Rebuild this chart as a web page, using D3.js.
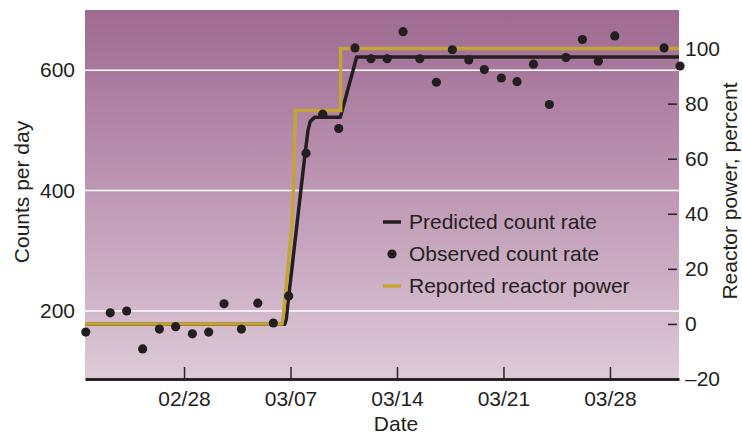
<!DOCTYPE html>
<html>
<head>
<meta charset="utf-8">
<script src="https://cdn.jsdelivr.net/npm/d3@7"></script>
<style>
  body { margin: 0; background: #fff; }
  text { font-family: "Liberation Sans", Arial, sans-serif; fill: #231f20; }
</style>
</head>
<body>
<div id="chart"></div>
<script>
// base date for the day offsets below (02/28)
var baseDate = Date.UTC(2021, 1, 28);

// observed count rate (dots)
var obsDay = [-6.46, -4.85, -3.77, -2.72, -1.62, -0.55, 0.55, 1.62, 2.63, 3.77, 4.85, 5.87, 6.88,
  8.02, 9.12, 10.17, 11.24, 12.29, 13.35, 14.40, 15.50, 16.59, 17.64, 18.72, 19.74, 20.86,
  21.89, 22.97, 24.02, 25.11, 26.19, 27.24, 28.32, 31.56, 32.61];
var obsCount = [165, 197, 200, 137, 170, 174, 162, 165, 212, 170, 213, 180, 225,
  462, 527, 503, 637, 619, 619, 664, 619, 580, 634, 617, 601, 587,
  581, 610, 543, 621, 651, 615, 657, 637, 607];

// predicted count rate (black line)
var predDay = [-6.51, 6.62, 6.72, 6.88, 7.96, 8.15, 8.3, 8.6, 10.28, 11.35, 32.54];
var predCount = [178, 178, 186, 224, 462, 500, 515, 522, 522, 622, 622];

// reported reactor power, percent (gold line)
var powerDay = [-6.51, 6.44, 6.55, 7.08, 7.19, 7.32, 10.3, 10.3, 32.54];
var powerPct = [0, 0, 4, 35, 49, 77.5, 77.5, 100, 100];

// axis ticks
var dateTicks = ["2021-02-28", "2021-03-07", "2021-03-14", "2021-03-21", "2021-03-28"];
var countTicks = [200, 400, 600];
var powerTicks = [-20, 0, 20, 40, 60, 80, 100];

var svgWidth = 742;
var svgHeight = 435;
var margin = { top: 10, right: 63, bottom: 56, left: 85 };
var width = svgWidth - margin.left - margin.right;
var height = svgHeight - margin.top - margin.bottom;
var fontSize = 21;

var dayMs = 864e5;
function toDate(d) { return new Date(baseDate + d * dayMs); }

var svg = d3.select("#chart").append("svg")
  .attr("width", svgWidth)
  .attr("height", svgHeight);

var defs = svg.append("defs");
var grad = defs.append("linearGradient")
  .attr("id", "bg")
  .attr("x1", 0).attr("y1", 0).attr("x2", 0).attr("y2", 1);
grad.append("stop").attr("offset", "0%").attr("stop-color", "#9e6a91");
grad.append("stop").attr("offset", "50%").attr("stop-color", "#bf98b5");
grad.append("stop").attr("offset", "100%").attr("stop-color", "#ddcad7");

var chartGroup = svg.append("g")
  .attr("transform", `translate(${margin.left}, ${margin.top})`);

var xScale = d3.scaleUtc()
  .domain([toDate(-6.51), toDate(32.54)])
  .range([0, width]);
var yLeft = d3.scaleLinear().domain([87, 700]).range([height, 0]);
var yRight = d3.scaleLinear().domain([-20, 114]).range([height, 0]);

chartGroup.append("rect")
  .attr("width", width)
  .attr("height", height)
  .attr("fill", "url(#bg)");

// white gridlines
chartGroup.selectAll(".grid")
  .data(countTicks)
  .enter()
  .append("line")
  .attr("x1", 0)
  .attr("x2", width)
  .attr("y1", d => yLeft(d))
  .attr("y2", d => yLeft(d))
  .attr("stroke", "#fff")
  .attr("stroke-width", 1.5);

// left axis: labels only
var leftAxis = d3.axisLeft(yLeft).tickValues(countTicks).tickSize(0).tickPadding(10);
var yAxisL = chartGroup.append("g").call(leftAxis);
yAxisL.select(".domain").remove();
yAxisL.selectAll("text").attr("font-size", fontSize).style("fill", "#231f20");

// right axis: ticks pointing into the plot
var rightAxis = d3.axisRight(yRight).tickValues(powerTicks).tickSizeInner(-9).tickSizeOuter(0).tickPadding(6)
  .tickFormat(d => d < 0 ? "\u2013" + Math.abs(d) : d);
var yAxisR = chartGroup.append("g")
  .attr("transform", `translate(${width - 2}, 0)`)
  .call(rightAxis);
yAxisR.select(".domain").remove();
yAxisR.selectAll("line").attr("stroke", "#231f20").attr("stroke-width", 1.5);
yAxisR.selectAll("text").attr("font-size", fontSize).attr("x", 8).style("fill", "#231f20");
yAxisR.selectAll(".tick").filter(d => d === -20).select("line").remove();

// bottom axis
var bottomAxis = d3.axisBottom(xScale)
  .tickValues(dateTicks.map(s => new Date(s + "T00:00:00Z")))
  .tickFormat(d3.utcFormat("%m/%d"))
  .tickSizeInner(-12).tickSizeOuter(0).tickPadding(27);
var xAxis = chartGroup.append("g")
  .attr("transform", `translate(0, ${height})`)
  .call(bottomAxis);
xAxis.select(".domain").attr("stroke", "#2a2627").attr("stroke-width", 3);
xAxis.selectAll("line").attr("stroke", "#2a2627").attr("stroke-width", 1.5);
xAxis.selectAll("text").attr("font-size", fontSize).attr("dy", "0").style("fill", "#231f20");

// predicted line
var predLine = d3.line()
  .x(d => xScale(toDate(d[0])))
  .y(d => yLeft(d[1]));
chartGroup.append("path")
  .datum(d3.zip(predDay, predCount))
  .attr("d", predLine)
  .attr("fill", "none")
  .attr("stroke", "#231f20")
  .attr("stroke-width", 3.5)
  .attr("stroke-linejoin", "round");

// reactor power line
var powerLine = d3.line()
  .x(d => xScale(toDate(d[0])))
  .y(d => yRight(d[1]));
chartGroup.append("path")
  .datum(d3.zip(powerDay, powerPct))
  .attr("d", powerLine)
  .attr("fill", "none")
  .attr("stroke", "#c4a434")
  .attr("stroke-width", 3.5);

// observed dots
chartGroup.selectAll(".obs")
  .data(d3.zip(obsDay, obsCount))
  .enter()
  .append("circle")
  .attr("cx", d => xScale(toDate(d[0])))
  .attr("cy", d => yLeft(d[1]))
  .attr("r", 4.6)
  .attr("fill", "#231f20");

// legend
var legend = chartGroup.append("g").attr("transform", "translate(298, 212)");
var legendRows = ["Predicted count rate", "Observed count rate", "Reported reactor power"];
legendRows.forEach(function(label, i) {
  var row = legend.append("g").attr("transform", `translate(0, ${i * 32})`);
  if (i === 0) {
    row.append("line").attr("x1", 0).attr("x2", 18).attr("y1", 0).attr("y2", 0)
      .attr("stroke", "#231f20").attr("stroke-width", 3.5);
  } else if (i === 1) {
    row.append("circle").attr("cx", 9).attr("cy", 0).attr("r", 4.6).attr("fill", "#231f20");
  } else {
    row.append("line").attr("x1", 0).attr("x2", 18).attr("y1", 0).attr("y2", 0)
      .attr("stroke", "#c4a434").attr("stroke-width", 3.5);
  }
  row.append("text")
    .attr("x", 26)
    .attr("y", 7)
    .attr("font-size", fontSize)
    .text(label);
});

// axis titles
svg.append("text")
  .attr("transform", "translate(29, 192) rotate(-90)")
  .attr("text-anchor", "middle")
  .attr("font-size", fontSize)
  .text("Counts per day");

svg.append("text")
  .attr("transform", "translate(737, 191) rotate(-90)")
  .attr("text-anchor", "middle")
  .attr("font-size", fontSize)
  .text("Reactor power, percent");

svg.append("text")
  .attr("x", 396)
  .attr("y", 431)
  .attr("text-anchor", "middle")
  .attr("font-size", fontSize)
  .text("Date");
</script>
</body>
</html>
